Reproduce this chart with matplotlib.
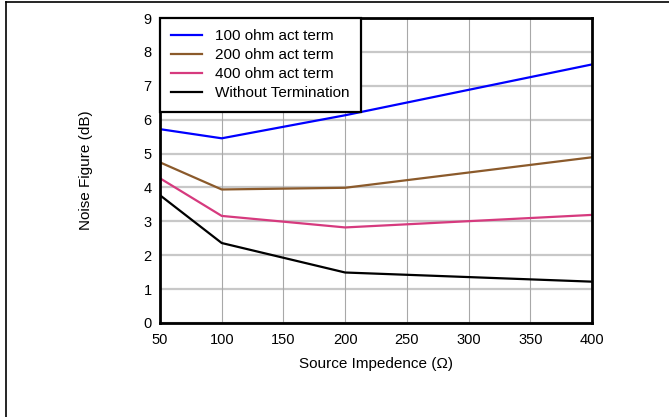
import matplotlib
matplotlib.use("Agg")
import matplotlib.pyplot as plt
from matplotlib.lines import Line2D

plt.rcParams['font.family'] = ['Liberation Sans', 'DejaVu Sans']

impedance = [50, 100, 200, 400]
nf_100 = [5.72, 5.45, 6.13, 7.63]
nf_200 = [4.74, 3.94, 3.99, 4.89]
nf_400 = [4.27, 3.16, 2.82, 3.19]
nf_none = [3.77, 2.36, 1.49, 1.22]

labels = ["100 ohm act term", "200 ohm act term", "400 ohm act term", "Without Termination"]
colors = ["#0000ff", "#8b5a2b", "#d63a7e", "#000000"]
x_ticks = [50, 100, 150, 200, 250, 300, 350, 400]
y_ticks = list(range(0, 10))

fig = plt.figure(figsize=(6.69, 4.17), dpi=100)
ax = fig.add_axes([160/669, 1-323/417, (592-160)/669, (323-18)/417])

for yv in y_ticks:
    ax.axhline(yv, color="#c8c8c8", lw=1.6, zorder=1)
for xv in x_ticks:
    ax.axvline(xv, color="#a8a8a8", lw=0.8, zorder=1)

for data, lab, c in zip([nf_100, nf_200, nf_400, nf_none], labels, colors):
    ax.plot(impedance, data, color=c, lw=1.6, label=lab, zorder=3)

ax.set_xlim(50, 400)
ax.set_ylim(0, 9)
ax.set_xticks(x_ticks)
ax.set_yticks(y_ticks)
ax.tick_params(length=0, labelsize=10.5)
ax.tick_params(axis="x", pad=7)
ax.tick_params(axis="y", pad=6)
for s in ax.spines.values():
    s.set_linewidth(2)
    s.set_zorder(5)

ax.set_xlabel("Source Impedence (Ω)", fontsize=11)
ax.set_ylabel("Noise Figure (dB)", fontsize=11)
ax.xaxis.set_label_coords(0.5, -(357-323)/305)
ax.yaxis.set_label_coords(-(160-93)/432, 0.5)

leg = ax.legend(loc="upper left", borderaxespad=0, fontsize=11, fancybox=False,
                framealpha=1, edgecolor="black", handlelength=2.0, handletextpad=0.85,
                labelspacing=0.32, borderpad=0.75)
leg.get_frame().set_linewidth(1.6)
leg.set_zorder(6)

# figure border (top and left)
fig.add_artist(Line2D([6/669, 6/669], [0, 1-2/417], color="black", lw=1.2, transform=fig.transFigure))
fig.add_artist(Line2D([6/669, 1], [1-2/417, 1-2/417], color="black", lw=1.2, transform=fig.transFigure))

fig.savefig("out.png", dpi=100)
